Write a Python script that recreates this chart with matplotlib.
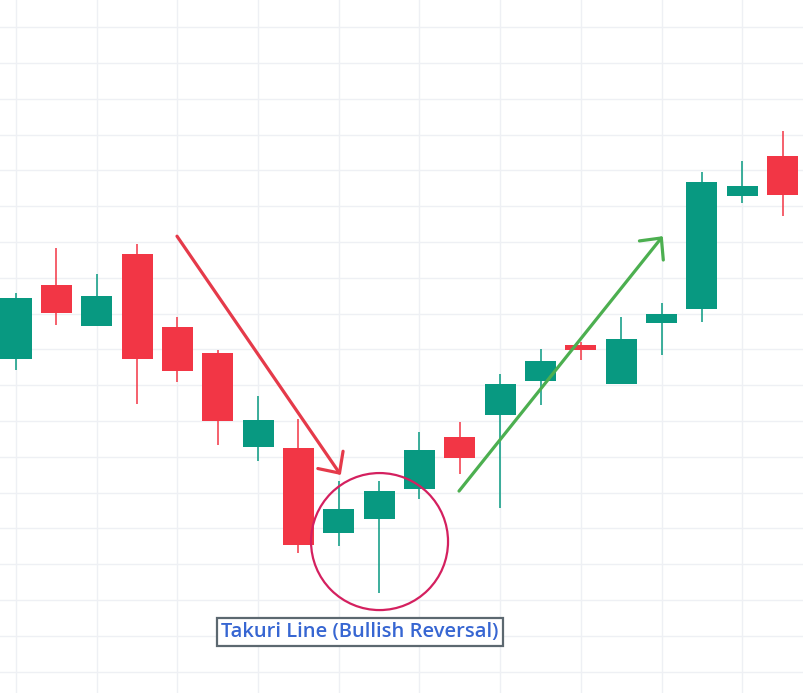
import matplotlib
matplotlib.use("Agg")
import matplotlib.pyplot as plt
from matplotlib.patches import Ellipse

# candle data (price units, one grid row = 1.0)
opens  = [8.73, 10.80, 9.65, 11.66, 9.62, 8.90, 6.27, 6.24, 3.87, 4.26,
          5.10, 6.55, 7.16, 8.11, 9.12, 8.03, 9.73, 10.13, 13.28, 14.40]
highs  = [10.57, 11.83, 11.10, 11.94, 9.90, 8.98, 7.70, 7.05, 5.32, 5.32,
          6.69, 6.97, 8.31, 9.01, 9.20, 9.90, 10.29, 13.95, 14.26, 15.10]
lows   = [8.42, 9.68, 9.65, 7.47, 8.09, 6.33, 5.88, 3.31, 3.51, 2.19,
          4.82, 5.52, 4.57, 7.44, 8.70, 8.03, 8.84, 9.76, 13.09, 12.72]
closes = [10.43, 10.01, 10.49, 8.73, 8.39, 7.00, 7.03, 3.53, 4.54, 5.04,
          6.19, 5.96, 8.03, 8.67, 8.98, 9.29, 9.99, 13.67, 13.56, 13.31]

# annotations
down_arrow = [(3.99, 12.16), (8.05, 5.49)]
up_arrow = [(10.98, 5.04), (16.03, 12.16)]
circle_center = (9.01, 3.63)
label_pos = (8.53, 1.10)
label_text = "Takuri Line (Bullish Reversal)"

GREEN = "#089981"
RED = "#f23645"

fig = plt.figure(figsize=(8.04, 6.93), dpi=100)
ax = fig.add_axes([0, 0, 1, 1])

x = list(range(len(opens)))
for i in x:
    o, h, l, c = opens[i], highs[i], lows[i], closes[i]
    col = GREEN if c >= o else RED
    ax.vlines(i, l, h, color=col, lw=1.1, zorder=2)
    ax.bar(i, abs(c - o), bottom=min(o, c), width=0.77, color=col, zorder=3)

ax.set_xlim(-0.3965, 19.53)
ax.set_ylim(-0.60, 18.757)
ax.set_xticks(range(0, 20, 2))
ax.set_yticks(range(0, 19))
ax.grid(True, color="#eef0f4", lw=1.0, zorder=0)
ax.tick_params(length=0, labelbottom=False, labelleft=False)
for s in ax.spines.values():
    s.set_visible(False)

ax.annotate("", xy=down_arrow[1], xytext=down_arrow[0],
            arrowprops=dict(arrowstyle="->,head_length=1.15,head_width=1.1",
                            color="#e53a4a", lw=2.3, mutation_scale=10,
                            shrinkA=0, shrinkB=0), zorder=5)
ax.annotate("", xy=up_arrow[1], xytext=up_arrow[0],
            arrowprops=dict(arrowstyle="->,head_length=1.15,head_width=1.1",
                            color="#4caf50", lw=2.3, mutation_scale=10,
                            shrinkA=0, shrinkB=0), zorder=5)

ax.add_patch(Ellipse(circle_center, 3.395, 3.827, fill=False,
                     ec="#d4205f", lw=1.6, zorder=4))

ax.text(label_pos[0], label_pos[1], label_text, ha="center", va="center",
        fontsize=14.5, fontweight="semibold", family="Open Sans", color="#3766d2",
        bbox=dict(boxstyle="square,pad=0.2", fc="white", ec="#5c6870", lw=1.6),
        zorder=6)

fig.savefig("out.png", dpi=100)
